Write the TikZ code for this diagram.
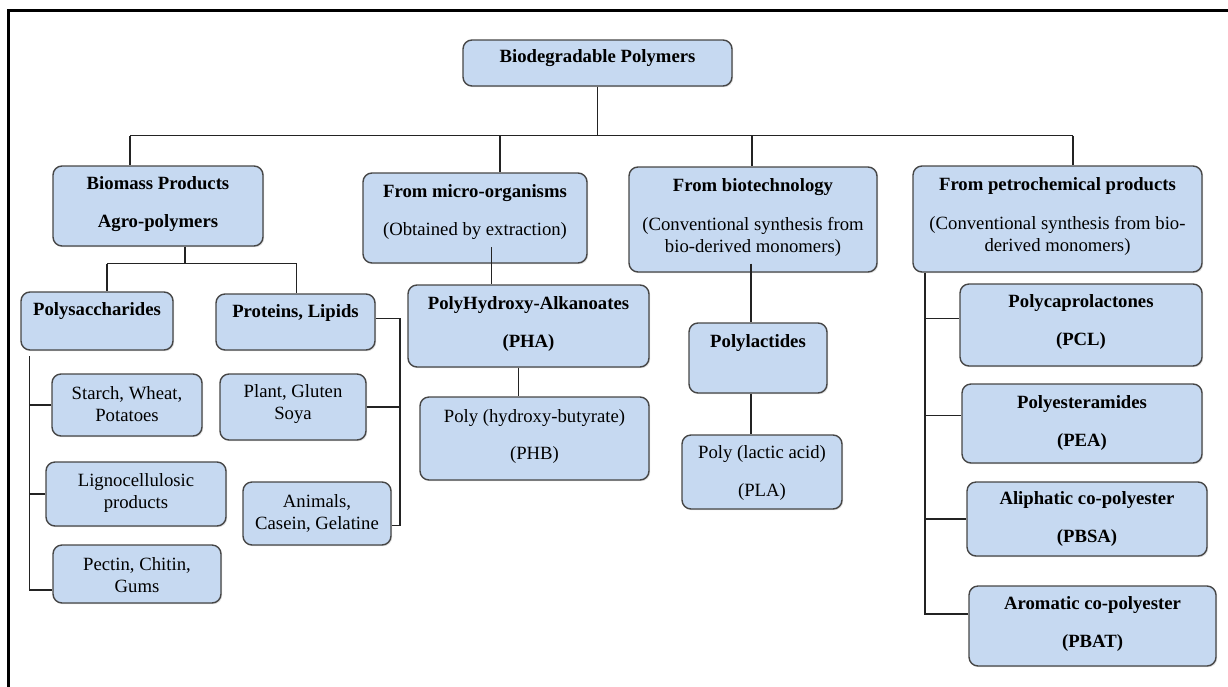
\documentclass[tikz,border=0pt]{standalone}
\usepackage{fontspec}
\setmainfont{Liberation Serif}
\usetikzlibrary{fit,shadows}
\definecolor{boxfill}{RGB}{198,217,241}
\definecolor{boxline}{RGB}{70,70,70}
\definecolor{connc}{RGB}{35,35,35}
\begin{document}
\begin{tikzpicture}[x=1pt,y=-1pt,
  bx/.style={draw=boxline, line width=1.4pt, fill=boxfill, rounded corners=9pt, inner sep=0pt,
     drop shadow={shadow xshift=1.2pt, shadow yshift=-1.2pt, opacity=0.25}},
  tx/.style={align=center, inner sep=0pt, font=\fontsize{18.7}{22}\selectfont},
  ln/.style={draw=connc, line width=1.3pt}]
\useasboundingbox (0,0) rectangle (1228,686);
% frame
\draw[line width=2.8pt] (8.7,690) -- (8.7,10.3) -- (1232,10.3);

% boxes
\node[bx, fit={(463,40) (732,86)}] (root) {};
\node[bx, fit={(53,166) (263,246)}] (bio) {};
\node[bx, fit={(363,173) (587,263)}] (mic) {};
\node[bx, fit={(629,167) (877,272)}] (btc) {};
\node[bx, fit={(913,166) (1202,272)}] (pet) {};
\node[bx, fit={(21,292) (173,350)}] (poly) {};
\node[bx, fit={(216,294) (375,350)}] (prot) {};
\node[bx, fit={(52,374) (202,436)}] (starch) {};
\node[bx, fit={(46,462) (226,526)}] (ligno) {};
\node[bx, fit={(53,545) (221,603)}] (pectin) {};
\node[bx, fit={(220,374) (366,440)}] (plant) {};
\node[bx, fit={(243,482) (391,545)}] (anim) {};
\node[bx, fit={(408,285) (649,367)}] (pha) {};
\node[bx, fit={(420,397) (649,480)}] (phb) {};
\node[bx, fit={(689,323) (827,393)}] (plac) {};
\node[bx, fit={(682,435) (842,509)}] (pla) {};
\node[bx, fit={(960,284) (1202,366)}] (pcl) {};
\node[bx, fit={(962,384) (1202,463)}] (pea) {};
\node[bx, fit={(967,482) (1207,556)}] (pbsa) {};
\node[bx, fit={(969,586) (1216,666)}] (pbat) {};

% texts
\node[tx] (troot) at (597.5,58) {\bfseries Biodegradable Polymers};
\node[tx] (tbio) at (158,204) {\bfseries Biomass Products\\[16pt]\bfseries Agro-polymers};
\node[tx] (tmic) at (475,212) {\bfseries From micro-organisms\\[16pt](Obtained by extraction)};
\node[tx] (tbtc) at (753,217) {\bfseries From biotechnology\\[17pt](Conventional synthesis from\\bio-derived monomers)};
\node[tx] (tpet) at (1057.5,216.5) {\bfseries From petrochemical products\\[17pt](Conventional synthesis from bio-\\derived monomers)};
\node[tx] (tpoly) at (97,311) {\bfseries Polysaccharides};
\node[tx] (tprot) at (295.5,313) {\bfseries Proteins, Lipids};
\node[tx] (tstarch) at (127,404) {Starch, Wheat,\\Potatoes};
\node[tx] (tligno) at (136,493) {Lignocellulosic\\products};
\node[tx] (tpectin) at (137,575) {Pectin, Chitin,\\Gums};
\node[tx] (tplant) at (293,404) {Plant, Gluten\\Soya};
\node[tx] (tanim) at (317,513) {Animals,\\Casein, Gelatine};
\node[tx] (tpha) at (528.5,324) {\bfseries PolyHydroxy-Alkanoates\\[15.7pt]\bfseries (PHA)};
\node[tx] (tphb) at (534.5,436.5) {Poly (hydroxy-butyrate)\\[14.7pt](PHB)};
\node[tx] (tplac) at (758,343.3) {\bfseries Polylactides};
\node[tx] (tpla) at (762,473) {Poly (lactic acid)\\[15.7pt](PLA)};
\node[tx] (tpcl) at (1081,322.4) {\bfseries Polycaprolactones\\[16pt]\bfseries (PCL)};
\node[tx] (tpea) at (1082,423) {\bfseries Polyesteramides\\[16pt]\bfseries (PEA)};
\node[tx] (tpbsa) at (1087,519) {\bfseries Aliphatic co-polyester\\[16pt]\bfseries (PBSA)};
\node[tx] (tpbat) at (1092.5,623.5) {\bfseries Aromatic co-polyester\\[16pt]\bfseries (PBAT)};

% connectors: top level
\coordinate (b0) at (130,135.5);
\coordinate (b1) at (500,135.5);
\coordinate (b2) at (752,135.5);
\coordinate (b3) at (1073,135.5);
\draw[ln] (root.south) -- (root.south |- b0);
\draw[ln] (b0) -- (b3);
\draw[ln] (b0) -- (b0 |- bio.north);
\draw[ln] (b1) -- (b1 |- mic.north);
\draw[ln] (b2) -- (b2 |- btc.north);
\draw[ln] (b3) -- (b3 |- pet.north);

% biomass subtree
\coordinate (c0) at (185,263.5);
\coordinate (c1) at (107,263.5);
\coordinate (c2) at (296.5,263.5);
\draw[ln] (c0 |- bio.south) -- (c0);
\draw[ln] (c1) -- (c2);
\draw[ln] (c1) -- (c1 |- poly.north);
\draw[ln] (c2) -- (c2 |- prot.north);

% polysaccharides
\coordinate (d0) at (29.3,356);
\coordinate (d3) at (29.3,590);
\draw[ln] (d0) -- (d3) -- (d3 -| pectin.west);
\draw[ln] (starch.west) -- (starch.west -| d0);
\draw[ln] (ligno.west) -- (ligno.west -| d0);

% proteins
\coordinate (e0) at (400,318.3);
\coordinate (e3) at (400,525.7);
\draw[ln] (prot.east |- e0) -- (e0) -- (e3) -- (e3 -| anim.east);
\draw[ln] (plant.east) -- (plant.east -| e0);

% micro-organisms
\coordinate (f0) at (491.7,247);
\coordinate (g0) at (518.3,400);
\draw[ln] (f0) -- (f0 |- pha.north);
\draw[ln] (pha.south -| g0) -- (phb.north -| g0);

% biotechnology
\coordinate (h0) at (751,263.5);
\draw[ln] (h0) -- (h0 |- plac.north);
\draw[ln] (plac.south -| h0) -- (pla.north -| h0);

% petrochemical
\coordinate (k1) at (925,318.5);
\coordinate (k2) at (925,415.5);
\coordinate (k3) at (925,519);
\coordinate (k4) at (925,614);
\draw[ln] (k1 |- pet.south) -- (k4) -- (k4 -| pbat.west);
\draw[ln] (k1) -- (k1 -| pcl.west);
\draw[ln] (k2) -- (k2 -| pea.west);
\draw[ln] (k3) -- (k3 -| pbsa.west);
\end{tikzpicture}
\end{document}
